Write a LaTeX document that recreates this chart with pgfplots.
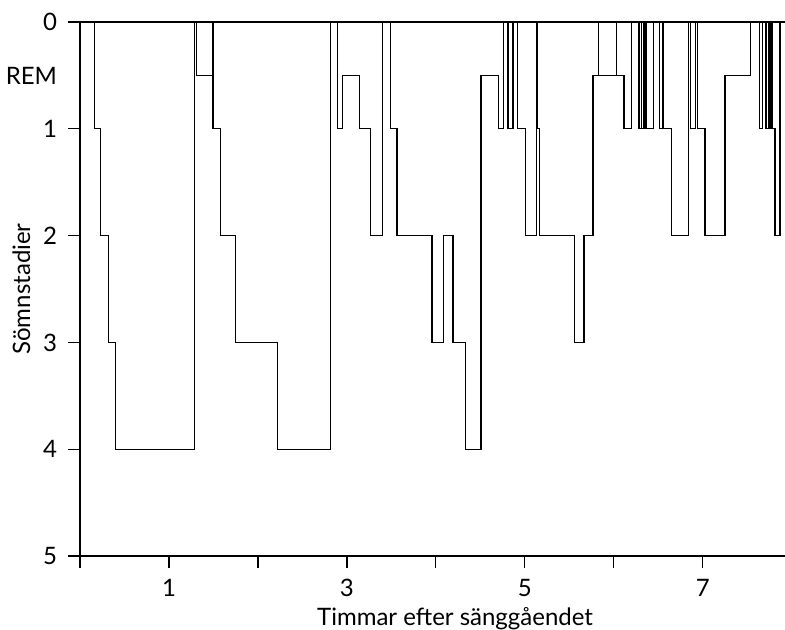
\documentclass[border=0pt]{standalone}
\usepackage{fontspec}
\setmainfont{Lato}
\usepackage{pgfplots}
\pgfplotsset{compat=1.18}
\begin{document}
\begin{tikzpicture}
\begin{axis}[
  scale only axis, width=352.5pt, height=267pt,
  xmin=0, xmax=7.925, ymin=0, ymax=5, y dir=reverse,
  axis x line*=bottom, axis y line*=left,
  axis line style={-, line width=0.65pt},
  tick align=outside, major tick length=6pt,
  tick style={line width=0.65pt, black},
  xtick={0,...,7}, xticklabels={,1,,3,,5,,7},
  ytick={0,...,5},
  extra y ticks={0.5}, extra y tick labels={REM},
  extra y tick style={tick style={draw=none}},
  /pgf/number format/assume math mode=true,
  ticklabel style={font=\fontsize{12}{14}\selectfont},
  yticklabel style={xshift=-2pt},
  xticklabel style={yshift=-2pt},
  xlabel={Timmar efter sänggåendet}, ylabel={Sömnstadier},
  label style={font=\fontsize{12}{14}\selectfont},
  xlabel style={at={(axis description cs:0.532,-0.1292)}, anchor=base, inner sep=0pt},
  ylabel style={at={(axis description cs:-0.0709,0.5)}, anchor=base, inner sep=0pt},
  clip=false,
]
% linje vid 0
\addplot[black, line width=0.65pt] coordinates {(0,0) (7.925,0)};
% hypnogram (tid i timmar, stadium fr.o.m. den tiden)
\addplot[black, line width=0.65pt, const plot] coordinates {
(0,0) (0.160,1) (0.227,2) (0.317,3) (0.396,4)
(1.291,0) (1.307,0.5) (1.494,0) (1.496,1) (1.580,2) (1.746,3) (2.218,4)
(2.814,0) (2.893,1) (2.949,0.5) (3.144,1) (3.264,2)
(3.399,0) (3.489,1) (3.564,2) (3.957,3) (4.089,2) (4.193,3) (4.336,4)
(4.508,0.5) (4.702,1) (4.758,0) (4.812,1) (4.868,0) (4.918,1) (5.008,2)
(5.129,0) (5.143,1) (5.169,2) (5.555,3) (5.667,2)
(5.768,0.5) (5.825,0) (5.825,0.5) (6.032,0) (6.032,0.5) (6.114,1)
(6.200,0) (6.285,1) (6.311,0) (6.311,1) (6.339,0) (6.339,1) (6.361,0) (6.361,1)
(6.443,0) (6.511,1) (6.552,0) (6.552,1) (6.646,2)
(6.837,0) (6.864,1) (6.920,0) (6.938,1) (7.025,2) (7.250,0.5)
(7.537,0) (7.638,1) (7.674,0) (7.711,1)
(7.739,0) (7.739,1) (7.753,0) (7.753,1) (7.765,0) (7.765,1) (7.779,0) (7.779,1)
(7.812,2) (7.868,0) (7.925,0)
};
\end{axis}
\pgfresetboundingbox
\path[use as bounding box] (current axis.south west) ++(-40pt,-36.5pt) rectangle ++(392.5pt,314.5pt);
\end{tikzpicture}
\end{document}
